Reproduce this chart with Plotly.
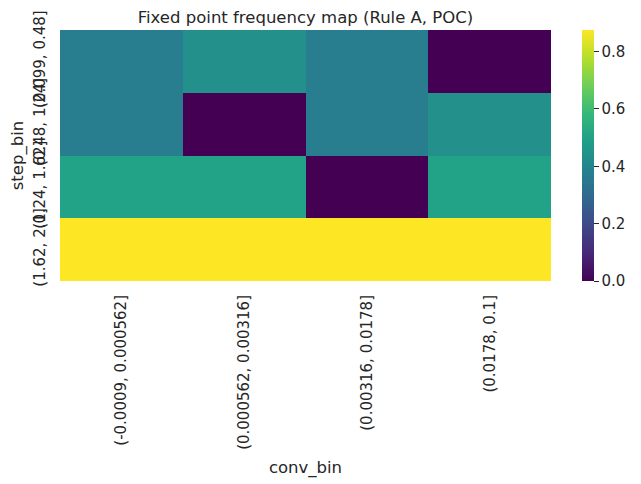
import plotly.graph_objects as go

# Bin labels (rows = step_bin, columns = conv_bin)
conv_bins = ["(-0.0009, 0.000562]", "(0.000562, 0.00316]", "(0.00316, 0.0178]", "(0.0178, 0.1]"]
step_bins = ["(0.099, 0.48]", "(0.48, 1.24]", "(1.24, 1.62]", "(1.62, 2.0]"]

# Fixed point frequency per cell, one list per step bin
freq_step_1 = [0.375, 0.4375, 0.375, 0.0]
freq_step_2 = [0.375, 0.0, 0.375, 0.4375]
freq_step_3 = [0.5, 0.5, 0.0, 0.5]
freq_step_4 = [0.875, 0.875, 0.875, 0.875]

cbar_ticks = [0.0, 0.2, 0.4, 0.6, 0.8]

z = [freq_step_1, freq_step_2, freq_step_3, freq_step_4]
txt = "#262626"
W, H = 641, 484
# page body adds an 8px offset, margins corrected for it
L, R, T, B = 52, 98, 22, 211

fig = go.Figure(go.Heatmap(
    z=z,
    x=conv_bins,
    y=step_bins,
    colorscale="Viridis",
    zmin=0,
    zmax=max(max(r) for r in z),
    xgap=0, ygap=0,
    colorbar=dict(
        thickness=12,
        len=1.0, lenmode="fraction",
        y=0.5, yanchor="middle",
        x=1.063, xanchor="left", xpad=0, ypad=0,
        outlinewidth=0,
        tickvals=cbar_ticks,
        ticktext=[f"{v:.1f}" for v in cbar_ticks],
        ticks="outside", ticklen=5, tickwidth=1.2, tickcolor=txt,
        tickfont=dict(size=15, color=txt),
    ),
))

fig.update_layout(
    width=W, height=H,
    margin=dict(l=L, r=R, t=T, b=B, autoexpand=False),
    paper_bgcolor="white",
    plot_bgcolor="white",
    font=dict(family="DejaVu Sans", size=15, color=txt),
    title=dict(
        text="Fixed point frequency map (Rule A, POC)",
        x=(L + (W - R)) / 2 / W, xanchor="center",
        y=1 - 9 / H, yanchor="middle",
        font=dict(size=16.5, color=txt),
    ),
)

# invisible ticks just push the labels away from the cells
fig.update_xaxes(
    title_text="conv_bin", title_standoff=12,
    title_font=dict(size=16.5), automargin=False,
    tickangle=-90, showgrid=False, zeroline=False,
    ticks="outside", ticklen=7, tickcolor="rgba(0,0,0,0)",
    tickfont=dict(size=15, color=txt),
)
fig.update_yaxes(
    title_text="step_bin", title_standoff=8,
    title_font=dict(size=16.5), automargin=False,
    autorange="reversed",
    tickangle=-90, showgrid=False, zeroline=False,
    ticks="outside", ticklen=8, tickcolor="rgba(0,0,0,0)",
    tickfont=dict(size=15, color=txt),
)

fig.write_html("out.html")
